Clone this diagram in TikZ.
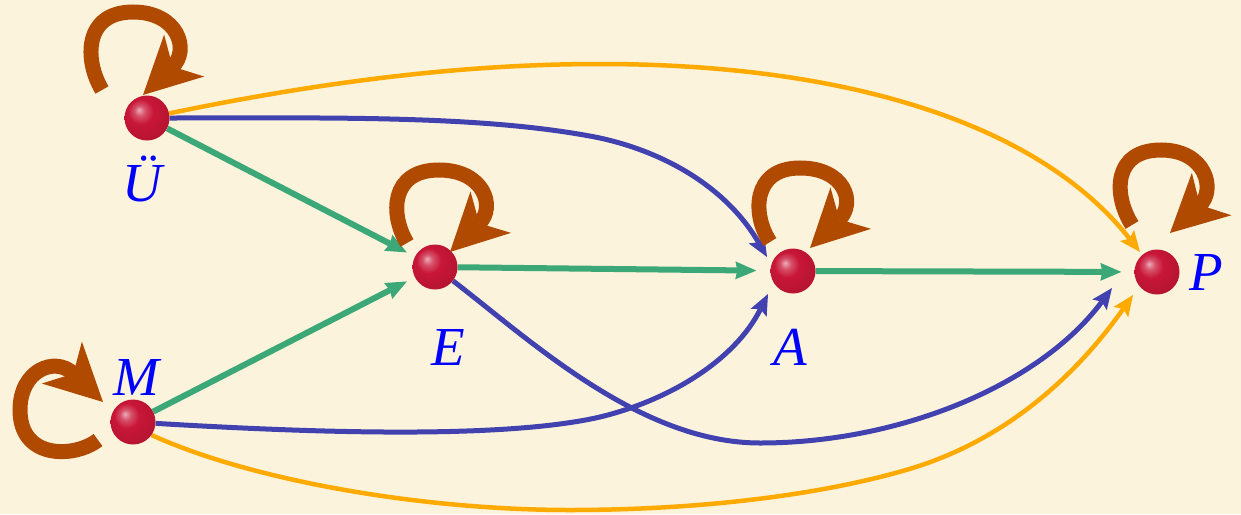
\documentclass[tikz,border=0pt]{standalone}
\usepackage{fontspec}
\setmainfont{Liberation Serif}
\usetikzlibrary{arrows.meta,calc}
\definecolor{bgcol}{RGB}{252,243,220}
\definecolor{loopbrown}{RGB}{176,74,0}
\definecolor{edgegreen}{RGB}{60,168,120}
\definecolor{edgeblue}{RGB}{65,65,175}
\definecolor{edgeorange}{RGB}{255,170,0}
\definecolor{labelblue}{RGB}{0,0,255}
\definecolor{ballred}{RGB}{200,22,55}
\pgfdeclareradialshading{redsphere}{\pgfpoint{-9bp}{9bp}}{%
  color(0bp)=(ballred!35!white);
  color(6bp)=(ballred!75!white);
  color(14bp)=(ballred);
  color(32bp)=(ballred!90!black);
  color(44bp)=(ballred!55!black);
  color(62bp)=(ballred!35!black)}
\pgfdeclarelayer{back}
\pgfdeclarelayer{edges}
\pgfsetlayers{back,edges,main}
\begin{document}
\begin{tikzpicture}[x=1pt,y=-1pt,
  ball/.style={circle,minimum size=45pt,inner sep=0pt,shading=redsphere},
  lab/.style={text=labelblue,font=\fontsize{55}{55}\selectfont\itshape,inner sep=0pt,anchor=base},
  selfloop/.style={draw=loopbrown,line width=15pt,-{Stealth[length=57pt,width=58pt,inset=16pt,line width=0pt]}},
  gedge/.style={draw=edgegreen,line width=6pt,-{Stealth[length=21pt,width=18pt,inset=2pt,line width=0pt]}},
  bedge/.style={draw=edgeblue,line width=5pt,-{Stealth[length=21pt,width=18pt,inset=4pt,line width=0pt]}},
  oedge/.style={draw=edgeorange,line width=4.5pt,-{Stealth[length=21pt,width=18pt,inset=4pt,line width=0pt]}}
]
\begin{pgfonlayer}{back}
\fill[bgcol] (0,0) rectangle (1241,514);
\end{pgfonlayer}
\useasboundingbox (0,0) rectangle (1241,514);

% nodes
\node[ball] (U) at (147,118) {};
\node[ball] (E) at (435,267) {};
\node[ball] (A) at (793,271) {};
\node[ball] (P) at (1157,272) {};
\node[ball] (M) at (133,422) {};

% labels
\node[lab] (Ul) at (142,201) {Ü};
\node[lab] (El) at (448,365) {E};
\node[lab] (Al) at (790,365) {A};
\node[lab] (Ml) at (136,395) {M};
\node[lab] (Pl) at (1206,290) {P};

\begin{pgfonlayer}{edges}
% green edges
\draw[gedge, shorten >=9pt] (U) -- (E);
\draw[gedge, shorten >=9pt] (M) -- (E);
\draw[gedge, shorten >=14pt] (E) -- (A);
\draw[gedge, shorten >=13pt] (A) -- (P);

% blue edges
\draw[bedge] (U) .. controls (330,118) and (480,115) .. (595,137)
  .. controls (660,150) and (725,185) .. ($(A)+(-26,-14)$);
\draw[bedge] (M) .. controls (300,432) and (500,440) .. (600,417)
  .. controls (670,400) and (735,360) .. ($(A)+(-25,23)$);
\draw[bedge] (E) .. controls (530,340) and (640,443) .. (760,443)
  .. controls (900,443) and (1040,385) .. ($(P)+(-45,16)$);

% orange edges
\draw[oedge] (U) .. controls (330,80) and (470,64) .. (600,64)
  .. controls (850,64) and (1040,125) .. ($(P)+(-17,-20)$);
\draw[oedge] (M.-35) .. controls (250,480) and (420,510) .. (570,510)
  .. controls (700,510) and (820,495) .. (906,470)
  .. controls (1010,440) and (1080,370) .. ($(P)+(-24,23)$);

% self loops
\coordinate (Us) at (102,90);
\coordinate (Es) at (407,243);
\coordinate (As) at (770,242);
\coordinate (Ps) at (1132,225);
\coordinate (Ms) at (98,440);
\draw[selfloop] (Us) .. controls (84,60) and (84,12) .. (133,12)
  .. controls (178,12) and (190,50) .. ($(U)+(-4,-23)$);
\draw[selfloop] (Es) .. controls (390,215) and (390,170) .. (439,170)
  .. controls (484,170) and (496,207) .. ($(E)+(15,-15)$);
\draw[selfloop] (As) .. controls (752,215) and (752,168) .. (800,168)
  .. controls (845,168) and (856,203) .. ($(A)+(17,-23)$);
\draw[selfloop] (Ps) .. controls (1113,195) and (1113,150) .. (1161,150)
  .. controls (1206,150) and (1216,190) .. ($(P)+(13,-39)$);
\draw[selfloop] (Ms) .. controls (75,458) and (20,460) .. (20,410)
  .. controls (20,370) and (55,356) .. ($(M)+(-30,-20)$);
\end{pgfonlayer}
\end{tikzpicture}
\end{document}
